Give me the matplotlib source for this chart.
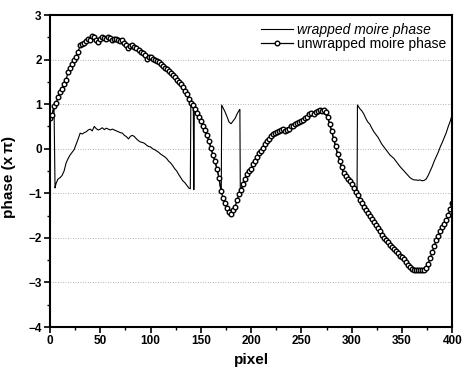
import numpy as np
import matplotlib
matplotlib.use("Agg")
import matplotlib.pyplot as plt
from matplotlib.ticker import MultipleLocator

# ---- data ----
unwrapped_x = list(range(0, 401, 2))
unwrapped_y = [
    0.68, 0.75, 0.95, 1.02, 1.15, 1.28, 1.35, 1.45, 1.55, 1.72,   # 0-18
    1.82, 1.90, 2.00, 2.05, 2.18, 2.32, 2.35, 2.38, 2.42, 2.47,   # 20-38
    2.45, 2.52, 2.50, 2.45, 2.40, 2.46, 2.50, 2.48, 2.46, 2.50,   # 40-58
    2.48, 2.45, 2.47, 2.46, 2.44, 2.42, 2.44, 2.38, 2.33, 2.25,   # 60-78
    2.30, 2.32, 2.28, 2.25, 2.22, 2.18, 2.15, 2.10, 2.02, 2.05,   # 80-98
    2.05, 2.02, 1.98, 1.96, 1.94, 1.90, 1.86, 1.82, 1.78, 1.74,   # 100-118
    1.70, 1.65, 1.60, 1.55, 1.50, 1.45, 1.38, 1.30, 1.22, 1.12,   # 120-138
    1.03, 0.98, 0.90, 0.80, 0.72, 0.62, 0.52, 0.42, 0.30, 0.18,   # 140-158
    0.02, -0.14, -0.28, -0.45, -0.65, -0.95, -1.10, -1.22, -1.32, -1.42,  # 160-178
    -1.46, -1.38, -1.30, -1.15, -1.02, -0.92, -0.80, -0.68, -0.56, -0.50,  # 180-198
    -0.45, -0.35, -0.28, -0.18, -0.10, -0.04, 0.02, 0.10, 0.18, 0.22,     # 200-218
    0.28, 0.33, 0.36, 0.38, 0.40, 0.42, 0.44, 0.40, 0.42, 0.45,           # 220-238
    0.50, 0.52, 0.56, 0.58, 0.60, 0.63, 0.65, 0.68, 0.72, 0.78,           # 240-258
    0.80, 0.78, 0.82, 0.85, 0.87, 0.84, 0.86, 0.82, 0.72, 0.55,           # 260-278
    0.40, 0.22, 0.05, -0.12, -0.28, -0.42, -0.55, -0.62, -0.68, -0.72,    # 280-298
    -0.80, -0.88, -0.96, -1.04, -1.14, -1.22, -1.30, -1.38, -1.45, -1.52, # 300-318
    -1.58, -1.65, -1.72, -1.78, -1.85, -1.93, -2.00, -2.05, -2.10, -2.15, # 320-338
    -2.20, -2.26, -2.30, -2.35, -2.40, -2.44, -2.48, -2.55, -2.62, -2.66, # 340-358
    -2.70, -2.72, -2.71, -2.73, -2.72, -2.71, -2.73, -2.68, -2.58, -2.45, # 360-378
    -2.32, -2.18, -2.05, -1.95, -1.85, -1.75, -1.68, -1.60, -1.48, -1.35, # 380-398
    -1.22,                                                                  # 400
]

wrapped_x = [
    0, 2, 4, 5, 6, 8, 10, 12, 14, 16, 18, 20, 22, 24, 26, 28, 30, 32, 34, 36, 38,
    40, 42, 44, 46, 48, 50, 52, 54, 56, 58, 60, 62, 64, 66, 68, 70, 72, 74, 76, 78,
    80, 82, 84, 86, 88, 90, 92, 94, 96, 98, 100, 102, 104, 106, 108, 110, 112, 114,
    116, 118, 120, 122, 124, 126, 128, 130, 132, 134, 136, 138, 139.5, 140, 142.5,
    143, 143.5, 144, 146, 148, 150, 152, 154, 156, 158, 160, 162, 164, 166, 168,
    170.3, 170.7, 172, 174, 176, 178, 180, 182, 184, 186, 188, 188.8, 189.2, 190,
    192, 196, 200, 210, 220, 230, 240, 250, 260, 270, 276, 280, 284, 288, 292, 296,
    300, 304, 305.3, 305.7, 308, 310, 312, 314, 316, 318, 320, 322, 324, 326, 328,
    330, 332, 334, 336, 338, 340, 342, 344, 346, 348, 350, 352, 354, 356, 358, 360,
    362, 364, 366, 368, 370, 372, 374, 376, 378, 380, 382, 384, 386, 388, 390, 392,
    394, 396, 398, 400,
]
wrapped_y = [
    0.68, 0.75, 0.95, -0.88, -0.78, -0.68, -0.65, -0.60, -0.50, -0.32, -0.22,
    -0.14, -0.08, -0.02, 0.10, 0.22, 0.35, 0.33, 0.36, 0.38, 0.42,
    0.44, 0.40, 0.50, 0.45, 0.42, 0.44, 0.47, 0.43, 0.46, 0.44, 0.42, 0.44,
    0.42, 0.40, 0.38, 0.36, 0.35, 0.30, 0.27, 0.22,
    0.28, 0.30, 0.27, 0.22, 0.18, 0.15, 0.14, 0.12, 0.08, 0.05, 0.04, 0.00,
    -0.02, -0.05, -0.08, -0.12, -0.15, -0.18,
    -0.22, -0.28, -0.32, -0.38, -0.45, -0.50, -0.58, -0.65, -0.72, -0.76,
    -0.82, -0.88, -0.90, 0.95, 0.92,
    -0.92, 0.92, 0.90, 0.80, 0.72, 0.62, 0.52, 0.42, 0.30, 0.18, 0.02,
    -0.14, -0.28, -0.45, -0.65,
    -0.98, 0.98, 0.92, 0.83, 0.72, 0.60, 0.56, 0.62, 0.68, 0.78, 0.86, 0.88,
    -0.92, -0.92,
    -0.80, -0.56, -0.45, -0.04, 0.28, 0.42, 0.50, 0.63, 0.80, 0.84, 0.72, 0.40,
    0.05, -0.28, -0.55, -0.68,
    -0.80, -0.96, -1.00, 0.98, 0.90, 0.85, 0.78, 0.68, 0.60, 0.55, 0.46, 0.38,
    0.32, 0.26, 0.18,
    0.10, 0.04, -0.02, -0.08, -0.14, -0.18, -0.22, -0.28, -0.34, -0.40, -0.45,
    -0.50, -0.55, -0.60, -0.65, -0.68,
    -0.70, -0.70, -0.71, -0.70, -0.72, -0.71, -0.68, -0.60, -0.50, -0.40,
    -0.28, -0.18, -0.08, 0.04, 0.14, 0.25,
    0.36, 0.50, 0.62, 0.78,
]

x_ticks = [0, 50, 100, 150, 200, 250, 300, 350, 400]
y_ticks = [-4, -3, -2, -1, 0, 1, 2, 3]

plt.rcParams['font.family'] = ['Liberation Sans', 'DejaVu Sans']

fig = plt.figure(figsize=(4.66, 3.78), dpi=100)
ax = fig.add_axes([0.1073, 0.1349, 0.8633, 0.8254])

ax.plot(wrapped_x, wrapped_y, color='black', linewidth=0.8,
        label='wrapped moire phase')
ax.plot(unwrapped_x, unwrapped_y, color='black', linewidth=0.9,
        marker='o', markersize=3.3, markerfacecolor='white',
        markeredgecolor='black', markeredgewidth=1.0,
        label='unwrapped moire phase')

ax.set_xlim(0, 400)
ax.set_ylim(-4, 3)
ax.set_xticks(x_ticks)
ax.set_yticks(y_ticks)
ax.xaxis.set_minor_locator(MultipleLocator(25))
ax.yaxis.set_minor_locator(MultipleLocator(0.5))
ax.tick_params(which='major', direction='out', length=4, width=1.2,
               labelsize=8.5, pad=2)
ax.tick_params(which='minor', direction='out', length=2.5, width=1.0)
for lab in ax.get_xticklabels() + ax.get_yticklabels():
    lab.set_fontweight('bold')

ax.yaxis.grid(True, which='major', linestyle=(0, (1, 2)), color='#999999',
              linewidth=0.6)
for s in ax.spines.values():
    s.set_linewidth(1.5)

ax.set_xlabel('pixel', fontsize=11, fontweight='bold', labelpad=4)
ax.set_ylabel('phase (x\u2009\u03c0)', fontsize=11, fontweight='bold', labelpad=4)
ax.yaxis.set_label_coords(-0.085, 0.48)

leg = ax.legend(loc='upper right', frameon=False, fontsize=10,
                handlelength=2.3, handletextpad=0.3, labelspacing=0.0,
                borderaxespad=0.3, bbox_to_anchor=(1.01, 1.005))
texts = leg.get_texts()
texts[0].set_fontstyle('italic')

fig.savefig('out.png', dpi=100)
